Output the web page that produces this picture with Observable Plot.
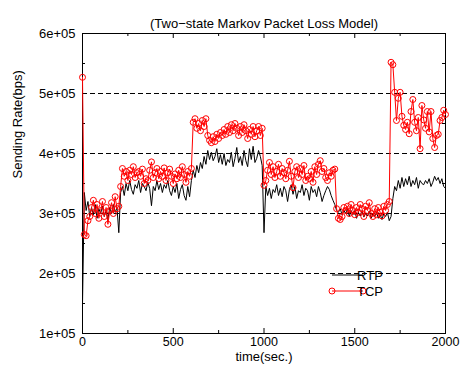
<!DOCTYPE html>
<html><head><meta charset="utf-8">
<script src="https://cdn.jsdelivr.net/npm/d3@7"></script>
<script src="https://cdn.jsdelivr.net/npm/@observablehq/plot@0.6"></script>
<style>
body{margin:0;background:#fff}
svg{font-family:"Liberation Sans",Arial,Helvetica,sans-serif}
</style>
</head><body><div id="chart"></div>
<script>
const title = "(Two\u2212state Markov Packet Loss Model)";
const xLabel = "time(sec.)";
const yLabel = "Sending Rate(bps)";
const seriesNames = ["RTP", "TCP"];
const time = d3.range(0, 2001, 10); // seconds
// sending rate, in units of 1e+05 bps
const rtp = [
1.48,3.35,3.05,3.20,2.95,3.10,2.98,3.15,2.92,3.08,
3.00,3.12,2.95,3.05,2.90,3.10,3.00,3.15,3.02,3.10,
2.68,3.35,3.45,3.30,3.50,3.38,3.55,3.40,3.32,3.48,
3.42,3.55,3.35,3.50,3.45,3.38,3.52,3.42,3.13,3.45,
3.38,3.55,3.40,3.50,3.35,3.48,3.42,3.55,3.38,3.30,
3.45,3.35,3.50,3.25,3.40,3.48,3.30,3.22,3.45,3.28,
3.55,3.72,3.60,3.80,3.68,3.85,3.75,3.95,3.82,4.05,
3.90,4.02,3.88,3.95,4.08,3.85,3.98,3.82,4.00,3.80,
3.90,3.85,4.02,3.78,3.92,4.10,3.85,3.95,3.80,4.05,
3.88,3.78,4.08,3.90,4.12,3.85,3.92,4.05,3.95,3.80,
2.68,3.45,3.30,3.42,3.25,3.40,3.35,3.48,3.30,3.42,
3.28,3.45,3.38,3.20,3.40,3.48,3.32,3.45,3.25,3.38,
3.35,3.48,3.30,3.42,3.38,3.22,3.45,3.35,3.40,3.28,
3.45,3.35,3.20,3.30,3.38,3.45,3.40,3.30,3.22,3.15,
3.05,3.02,3.08,2.98,3.05,3.00,3.08,2.95,3.05,2.98,
3.05,2.92,3.02,2.96,3.05,2.94,3.00,2.96,3.04,2.92,
3.00,2.95,3.02,2.92,2.98,2.90,3.00,2.95,3.02,2.88,
2.95,3.25,3.45,3.38,3.55,3.42,3.60,3.45,3.58,3.48,
3.62,3.45,3.55,3.48,3.60,3.42,3.55,3.50,3.48,3.55,
3.50,3.58,3.45,3.52,3.62,3.55,3.60,3.50,3.58,3.45,
3.42];
const tcp = [
5.27,2.65,2.63,2.88,2.95,3.10,3.22,3.00,3.15,2.92,
3.05,3.20,2.95,3.10,2.82,3.05,3.18,3.00,3.28,3.08,
3.12,3.45,3.75,3.62,3.70,3.55,3.72,3.65,3.78,3.60,
3.68,3.70,3.62,3.74,3.50,3.58,3.55,3.72,3.86,3.60,
3.68,3.75,3.58,3.70,3.62,3.76,3.55,3.68,3.74,3.62,
3.50,3.66,3.58,3.72,3.60,3.78,3.65,3.52,3.70,3.62,
3.75,4.52,4.58,4.42,4.50,4.38,4.55,4.45,4.58,4.30,
4.22,4.18,4.28,4.20,4.32,4.25,4.35,4.30,4.40,4.32,
4.45,4.35,4.48,4.38,4.50,4.42,4.30,4.45,4.35,4.48,
4.38,4.25,4.40,4.32,4.45,4.28,4.38,4.45,4.30,4.42,
3.47,3.55,3.72,3.85,3.65,3.78,3.60,3.70,3.82,3.62,
3.75,3.68,3.58,3.72,3.87,3.62,3.43,3.70,3.78,3.60,
3.75,3.65,3.80,3.55,3.62,3.58,3.70,3.52,3.78,3.65,
3.82,3.88,3.70,3.75,3.60,3.55,3.68,3.62,3.72,3.74,
3.08,2.92,2.90,2.95,3.10,3.05,3.12,3.00,3.15,3.05,
2.98,3.10,3.02,3.15,3.08,2.95,3.12,3.05,3.18,3.00,
2.95,3.08,2.98,3.10,3.02,2.96,3.12,3.05,3.15,3.20,
5.52,5.48,5.02,4.55,4.92,5.02,4.62,4.47,4.40,4.52,
4.33,4.70,4.90,4.52,4.38,4.60,4.08,4.80,4.56,4.42,
4.70,4.36,4.70,4.25,4.10,4.30,4.32,4.55,4.60,4.72,
4.65];
const unit = 1e5;
const xTicks = [0, 500, 1000, 1500, 2000];
const xMinorTicks = [250, 750, 1250, 1750];
const yTicks = [1, 2, 3, 4, 5, 6];
const yMinorTicks = [1.5, 2.5, 3.5, 4.5, 5.5];
const yGrid = [1, 2, 3, 4, 5];

const W = 465, H = 381, mL = 82, mR = 20, mT = 33, mB = 48;
const innerW = W - mL - mR, innerH = H - mT - mB;
const rtpRows = time.map((t, i) => ({t, v: rtp[i] * unit}));
const tcpRows = time.map((t, i) => ({t, v: tcp[i] * unit}));
const fmt = d => d3.format(".0e")(d).replace(/e([+-])(\d)$/, "e$10$2");
const red = "#ff0000";

const legend = (index, scales, values, dims) => {
  const right = dims.width - dims.marginRight;
  const bottom = dims.height - dims.marginBottom;
  const g = d3.create("svg:g").attr("font-size", 13).attr("fill", "black");
  const x0 = right - 113, x1 = right - 82;
  const specs = [{name: seriesNames[0], color: "black", dots: false, y: bottom - 58},
                 {name: seriesNames[1], color: red, dots: true, y: bottom - 42}];
  for (const s of specs) {
    g.append("line").attr("x1", x0).attr("x2", x1).attr("y1", s.y).attr("y2", s.y)
      .attr("stroke", s.color).attr("stroke-width", 1);
    if (s.dots) for (const x of [x0, x1])
      g.append("circle").attr("cx", x).attr("cy", s.y).attr("r", 3)
        .attr("fill", "none").attr("stroke", s.color);
    g.append("text").attr("x", x1 + 7).attr("y", s.y).attr("dy", "0.35em").text(s.name);
  }
  return g.node();
};

const chart = Plot.plot({
  width: W, height: H,
  marginLeft: mL, marginRight: mR, marginTop: mT, marginBottom: mB,
  style: {fontFamily: "'Liberation Sans', Arial, sans-serif", fontSize: "13px", background: "white", color: "black", overflow: "visible"},
  x: {domain: [0, 2000]},
  y: {domain: [1 * unit, 6 * unit]},
  marks: [
    Plot.ruleY(yGrid, {y: d => d * unit, stroke: "black", strokeDasharray: "5,3", strokeWidth: 1}),
    Plot.frame({stroke: "black", strokeWidth: 1}),
    // inward ticks
    Plot.tickX(xTicks, {x: d => d, insetTop: innerH - 5, stroke: "black"}),
    Plot.tickX(xTicks, {x: d => d, insetBottom: innerH - 5, stroke: "black"}),
    Plot.tickX(xMinorTicks, {x: d => d, insetTop: innerH - 3, stroke: "black"}),
    Plot.tickX(xMinorTicks, {x: d => d, insetBottom: innerH - 3, stroke: "black"}),
    Plot.tickY(yTicks, {y: d => d * unit, insetRight: innerW - 5, stroke: "black"}),
    Plot.tickY(yTicks, {y: d => d * unit, insetLeft: innerW - 5, stroke: "black"}),
    Plot.tickY(yMinorTicks, {y: d => d * unit, insetRight: innerW - 3, stroke: "black"}),
    Plot.tickY(yMinorTicks, {y: d => d * unit, insetLeft: innerW - 3, stroke: "black"}),
    Plot.axisX({ticks: xTicks, tickSize: 0, tickPadding: 4, tickFormat: d => String(d), label: null, fontSize: 12.5}),
    Plot.axisY({ticks: yTicks.map(d => d * unit), tickSize: 0, tickPadding: 7, tickFormat: fmt, label: null, fontSize: 13}),
    Plot.line(rtpRows, {x: "t", y: "v", stroke: "black", strokeWidth: 1}),
    Plot.line(tcpRows, {x: "t", y: "v", stroke: red, strokeWidth: 1}),
    Plot.dot(tcpRows, {x: "t", y: "v", r: 3, stroke: red, fill: "none", strokeWidth: 1}),
    legend,
    Plot.text([title], {frameAnchor: "top", dy: -15, fontSize: 13, fill: "black"}),
    Plot.text([xLabel], {frameAnchor: "bottom", dy: 27, fontSize: 13, fill: "black"}),
    Plot.text([yLabel], {frameAnchor: "left", dx: -65, dy: -5, rotate: -90, fontSize: 13, fill: "black"})
  ]
});
document.getElementById("chart").append(chart);
</script>
</body></html>
